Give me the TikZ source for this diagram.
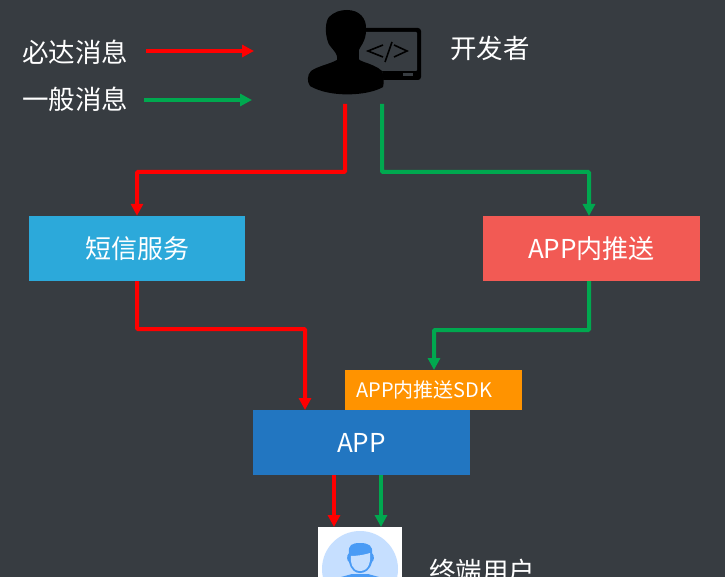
\documentclass[tikz,border=0pt]{standalone}
\usepackage{fontspec}
\setmainfont{Noto Sans CJK SC}
\usetikzlibrary{arrows.meta}
\definecolor{bgc}{HTML}{373C41}
\definecolor{redc}{HTML}{FF0000}
\definecolor{greenc}{HTML}{00A84F}
\definecolor{cyanb}{HTML}{2CA9DA}
\definecolor{coral}{HTML}{F25A54}
\definecolor{orangeb}{HTML}{FF9300}
\definecolor{blueb}{HTML}{2276C1}
\definecolor{avbg}{HTML}{C6DFFF}
\definecolor{avfg}{HTML}{4A9BF5}
\tikzset{
  box/.style={draw=none,minimum width=216pt,minimum height=65pt,inner sep=0pt,text=white,font=\fontsize{26}{30}\selectfont},
  lbl/.style={anchor=west,inner sep=0pt,text=white,font=\fontsize{26.5}{30}\selectfont},
  arr/.style={line width=4pt,-{Triangle[length=12pt,width=12pt]},rounded corners=1pt},
  redarr/.style={arr,draw=redc},
  greenarr/.style={arr,draw=greenc},
}
\begin{document}
\begin{tikzpicture}[x=1pt,y=-1pt]
\useasboundingbox (0,0) rectangle (725,577);
\fill[bgc] (0,0) rectangle (725,577);
\clip (0,0) rectangle (725,577);
% legend
\node[lbl] (l1) at (22,52) {必达消息};
\node[lbl] (l2) at (22,99) {一般消息};
\coordinate (l1a) at (146,51); \coordinate (l1b) at (254,51);
\coordinate (l2a) at (144,100); \coordinate (l2b) at (252,100);
\draw[redarr] (l1a) -- (l1b);
\draw[greenarr] (l2a) -- (l2b);
% developer icon
\fill[black,rounded corners=3pt] (355,28) rectangle (421,80);
\fill[bgc,rounded corners=1pt] (359,32) rectangle (417,71);
\fill[bgc] (403,73.5) rectangle (413,76);
\draw[black,line width=1.6pt] (383,45) -- (368,51) -- (383,57);
\draw[black,line width=1.6pt] (392,42) -- (385,62);
\draw[black,line width=1.6pt] (394,45) -- (407,51) -- (394,57);
\fill[bgc] (352,60) -- (382,70) -- (385,95) -- (345,95) -- cycle;
\fill[black] (347,10) .. controls (359,10) and (367,18) .. (366,30)
  .. controls (366,42) and (360,46) .. (358,52)
  .. controls (356,58) and (358,60) .. (364,62)
  .. controls (370,64) and (378,67) .. (382,71)
  .. controls (384,76) and (384,84) .. (383,87)
  .. controls (368,96) and (330,98) .. (310,86)
  .. controls (307,82) and (307,75) .. (311,71)
  .. controls (318,66) and (330,64) .. (337,60)
  .. controls (339,53) and (329,47) .. (328,42)
  .. controls (325,34) and (325,22) .. (329,17)
  .. controls (334,12) and (340,10) .. (347,10) -- cycle;
\coordinate (dev) at (363,104);
\node[lbl] (devl) at (450,48) {开发者};
% boxes
\node[box,fill=cyanb] (sms) at (137,248.5) {短信服务};
\node[box,fill=coral,minimum width=217pt] (push) at (591.5,248.5) {APP内推送};
\node[box,fill=blueb,minimum width=217pt] (app) at (361.5,442.5) {APP};
\node[draw=none,fill=orangeb,minimum width=177pt,minimum height=40pt,inner sep=0pt,text=white,font=\fontsize{20}{24}\selectfont] (sdk) at (433.5,390) {\hspace*{-18pt}APP内推送SDK};
% avatar
\node[fill=white,minimum width=84pt,minimum height=60pt,inner sep=0pt] (user) at (360,557) {};
\fill[avbg] (360,569) circle (38);
\fill[avfg] (341,577) -- (352,574) -- (368,574) -- (379,577) -- (388,585) -- (332,585) -- cycle;
\fill[avfg] (349,553) .. controls (348,545) and (352,543) .. (360,543) .. controls (369,543) and (373,546) .. (372,553) .. controls (375,556) and (374,561) .. (372,562) .. controls (370,570) and (365,573) .. (360,573) .. controls (355,573) and (351,570) .. (349,562) .. controls (347,561) and (346,556) .. (349,553) -- cycle;
\fill[avbg] (351,556) .. controls (356,556) and (364,555) .. (370,553) .. controls (371,561) and (369,571) .. (360,571) .. controls (352,571) and (350,562) .. (351,556) -- cycle;
\node[lbl] (userl) at (429,571) {终端用户};
% connectors
\draw[redarr] (345,104) -- (345,172) -- (137,172) -- (sms.north);
\draw[greenarr] (382,104) -- (382,172) -- (589,172) -- (589,216);
\draw[redarr] (sms.south) -- (137,329) -- (305,329) -- (305,410);
\draw[greenarr] (589,281) -- (589,330) -- (434,330) -- (434,370);
\draw[redarr] (334,475) -- (334,527);
\draw[greenarr] (381,475) -- (381,527);
\end{tikzpicture}
\end{document}
